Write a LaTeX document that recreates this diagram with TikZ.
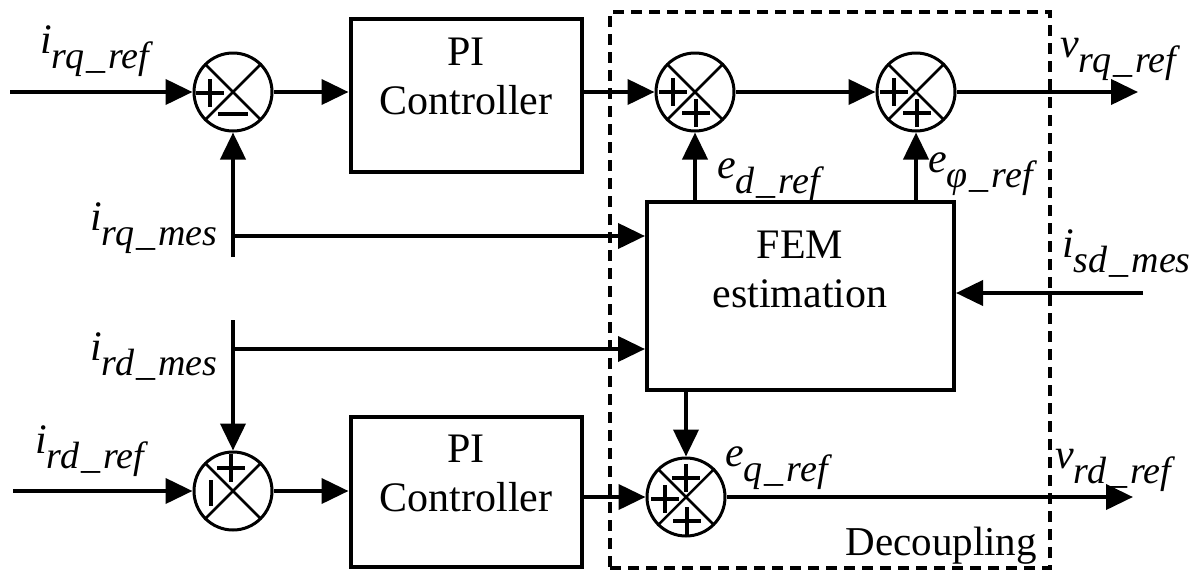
\documentclass[tikz,border=0pt]{standalone}
\usepackage{fontspec}
\setmainfont{Liberation Serif}
\usetikzlibrary{arrows.meta,calc}

% signal name: italic letter with a lowered italic subscript
\newcommand\sigl[2]{{\fontsize{42}{42}\selectfont\itshape #1}\raisebox{-15pt}{\fontsize{38}{38}\selectfont\itshape #2}}
% spaced low line inside a subscript
\newcommand\ul{\kern2pt\_\kern3pt}

\begin{document}
\begin{tikzpicture}[x=1pt,y=-1pt,
  flow/.style={line width=4pt,-{Triangle[length=27pt,width=25pt]}},
  sumj/.style={circle,draw,line width=3pt,minimum size=78pt,inner sep=0pt},
  xline/.style={line width=2.5pt,shorten >=1.5pt,shorten <=1.5pt},
  blk/.style={draw,line width=4pt,inner sep=0pt},
  blktext/.style={align=center,inner sep=0pt,font=\fontsize{42}{49}\selectfont},
  sig/.style={inner sep=0pt,anchor=base west},
  pics/plussign/.style={code={\draw[line width=3.2pt] (-14,0)--(14,0) (0,-14)--(0,14);}},
  pics/hbar/.style={code={\draw[line width=3.2pt] (-15,0)--(15,0);}},
  pics/vbar/.style={code={\draw[line width=3.2pt] (0,-13)--(0,13);}},
]
\useasboundingbox (0,0) rectangle (1199,571);

% decoupling region
\node[draw,line width=3.5pt,dash pattern=on 11pt off 7pt,minimum width=440pt,minimum height=556pt,inner sep=0pt] (dec) at (830,290) {};
\node[anchor=base east,inner sep=0pt,font=\fontsize{41}{48}\selectfont] (declbl) at (1037,555) {Decoupling};

% summing junctions
\node[sumj] (errq) at (233,92) {};
\node[sumj] (addd) at (695,92) {};
\node[sumj] (addphi) at (916,92) {};
\node[sumj] (errd) at (233,491) {};
\node[sumj] (addq) at (686,497) {};
\foreach \n in {errq,addd,addphi,errd,addq}
  \draw[xline] (\n.45) -- (\n.225) (\n.135) -- (\n.315);

% blocks
\node[blk,minimum width=231pt,minimum height=153pt] (pi1) at (466,95) {};
\node[blktext] (pi1t) at (466,76) {PI\\Controller};
\node[blk,minimum width=231pt,minimum height=150pt] (pi2) at (466,492) {};
\node[blktext] (pi2t) at (466,473) {PI\\Controller};
\node[blk,minimum width=307pt,minimum height=188pt] (fem) at (800.5,296) {};
\node[blktext] (femt) at (800,269) {FEM\\estimation};

% signs at the junction inputs
\pic at ($(errq)+(-23,1)$) {plussign};
\pic at ($(errq)+(0,22)$) {hbar};
\pic at ($(addd)+(-22,0)$) {plussign};
\pic at ($(addd)+(1,21)$) {plussign};
\pic at ($(addphi)+(-22,0)$) {plussign};
\pic at ($(addphi)+(1,21)$) {plussign};
\pic at ($(errd)+(-2,-23)$) {plussign};
\pic at ($(errd)+(-22,2)$) {vbar};
\pic at ($(addq)+(-21,2)$) {plussign};
\pic at ($(addq)+(0,-19)$) {plussign};
\pic at ($(addq)+(1,24)$) {plussign};

% free ends and branch points
\coordinate (in1) at (10,92);
\coordinate (out1) at (1138,92);
\coordinate (mq) at (233,257);
\coordinate (jq) at (233,236);
\coordinate (md) at (233,320);
\coordinate (jd) at (233,349);
\coordinate (in2) at (13,491);
\coordinate (out2) at (1133,497);
\coordinate (isd) at (1143,293);

% connectors
\draw[flow] (in1) -- (errq.west);
\draw[flow] (errq.east) -- (errq.east -| pi1.west);
\draw[flow] (pi1.east |- addd) -- (addd.west);
\draw[flow] (addd.east) -- (addphi.west);
\draw[flow] (addphi.east) -- (out1);
\draw[flow] (mq) -- (errq.south);
\draw[flow] (jq) -- (fem.west |- jq);
\draw[flow] (md) -- (errd.north);
\draw[flow] (jd) -- (fem.west |- jd);
\draw[flow] (in2) -- (errd.west);
\draw[flow] (errd.east) -- (errd.east -| pi2.west);
\draw[flow] (pi2.east |- addq) -- (addq.west);
\draw[flow] (addq.east) -- (out2);
\draw[flow] (addq |- fem.south) -- (addq.north);
\draw[flow] (addd |- fem.north) -- (addd.south);
\draw[flow] (addphi |- fem.north) -- (addphi.south);
\draw[flow] (isd) -- (fem.east |- isd);

% signal labels
\node[sig] (lirqref) at (40,53) {\sigl{i}{rq\ul ref}};
\node[sig] (lirqmes) at (90,230) {\sigl{i}{rq\ul mes}};
\node[sig] (lirdmes) at (90,360) {\sigl{i}{rd\ul mes}};
\node[sig] (lirdref) at (35,453) {\sigl{i}{rd\ul ref}};
\node[sig] (ledref) at (717,178) {\sigl{e}{d\ul ref}};
\node[sig] (lephiref) at (928,172) {\sigl{e}{φ\ul ref}};
\node[sig] (leqref) at (725,466) {\sigl{e}{q\ul ref}};
\node[sig] (lvrqref) at (1060,57) {\sigl{v}{rq\ul ref}};
\node[sig] (lvrdref) at (1055,468) {\sigl{v}{rd\ul ref}};
\node[sig] (lisdmes) at (1062,257) {\sigl{i}{sd\ul mes}};
\end{tikzpicture}
\end{document}
